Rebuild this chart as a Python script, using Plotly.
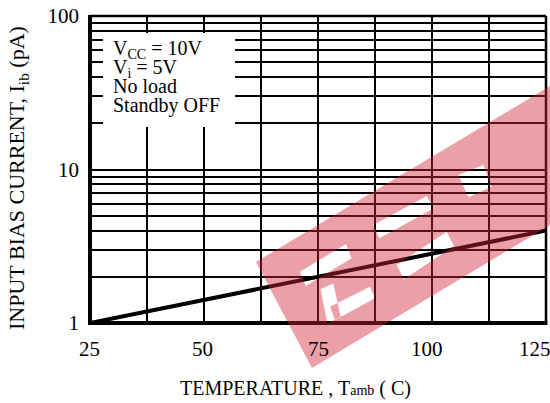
import plotly.graph_objects as go

# ---- data ----
temperature_c = [25, 50, 75, 100, 125]
ib_pa = [1.0, 1.41, 2.0, 2.83, 4.0]

x_tickvals = [25, 50, 75, 100, 125]
x_ticktext = ["25", "50", "75", "100", "125"]
x_minorvals = [37.5, 62.5, 87.5, 112.5]
y_tickvals = [1, 10, 100]
y_ticktext = ["1", "10", "100"]
y_minorvals = [2, 3, 4, 5, 6, 7, 8, 9, 20, 30, 40, 50, 60, 70, 80, 90]

cond_lines = ["V<sub>CC</sub> = 10V", "V<sub>i</sub> = 5V", "No load", "Standby OFF"]

FONT = "Liberation Serif"
W, H = 550, 403
ML, MR, MT, MB = 90, 4, 16, 80
PW, PH = W - ML - MR, H - MT - MB


def px(xp):
    return (xp - ML) / PW


def py(yp):
    return (H - MB - yp) / PH


def poly_path(pts):
    return "M " + " L ".join(f"{px(a):.4f},{py(b):.4f}" for a, b in pts) + " Z"


fig = go.Figure()
fig.add_trace(go.Scatter(
    x=temperature_c, y=ib_pa, mode="lines",
    line=dict(color="black", width=4), showlegend=False, hoverinfo="skip",
))

grid = dict(showgrid=True, gridcolor="black", gridwidth=1.5, zeroline=False,
            showline=False, ticks="", tickfont=dict(family=FONT, size=21, color="black"))

fig.update_xaxes(range=[25, 125], tickmode="array", tickvals=x_tickvals, ticktext=x_ticktext,
                 showticklabels=False,
                 minor=dict(tickmode="array", tickvals=x_minorvals, showgrid=True,
                            gridcolor="black", gridwidth=1.5, ticks=""),
                 **grid)
fig.update_yaxes(type="log", range=[0, 2], tickmode="array", tickvals=y_tickvals,
                 ticktext=y_ticktext, ticklabelstandoff=10,
                 minor=dict(tickmode="array", tickvals=y_minorvals, showgrid=True,
                            gridcolor="black", gridwidth=1.5, ticks=""),
                 **grid)

shapes = []
# white box behind the conditions text
shapes.append(dict(type="rect", xref="paper", yref="paper", x0=px(103), x1=px(235),
                   y0=py(127), y1=py(33), fillcolor="white", line=dict(width=0), layer="above"))
# frame: thick left/bottom, thinner top/right
shapes.append(dict(type="line", xref="paper", yref="paper", x0=0, x1=0, y0=-0.006, y1=1.003,
                   line=dict(color="black", width=4)))
shapes.append(dict(type="line", xref="paper", yref="paper", x0=-0.004, x1=1.003, y0=0, y1=0,
                   line=dict(color="black", width=4)))
shapes.append(dict(type="line", xref="paper", yref="paper", x0=0, x1=1, y0=1, y1=1,
                   line=dict(color="black", width=2.5)))
shapes.append(dict(type="line", xref="paper", yref="paper", x0=1, x1=1, y0=0, y1=1,
                   line=dict(color="black", width=2.5)))

# ---- translucent red watermark band with the logo's white cut-outs as holes ----
band = [(256, 262), (312, 368), (560, 219), (560, 80)]
holes3x = [  # crop coordinates (origin 250,90, scale 1/3), opposite winding -> holes
    [(150, 545), (288, 462), (305, 505), (167, 588)],
    [(212, 598), (250, 580), (272, 680), (232, 700)],
    [(240, 650), (360, 590), (375, 625), (255, 690)],
    [(370, 405), (530, 318), (552, 355), (388, 445)],
    [(440, 525), (590, 425), (612, 468), (462, 568)],
    [(625, 255), (700, 225), (725, 290), (655, 322)],
]
path = poly_path(band)
for h in holes3x:
    path += " " + poly_path([(250 + a / 3, 90 + b / 3) for a, b in h])
shapes.append(dict(type="path", xref="paper", yref="paper", path=path,
                   fillcolor="rgba(207,37,51,0.435)", line=dict(width=0), layer="above"))

annotations = []
# x tick labels (the original's labels sit slightly left of their gridlines)
label_shift = [-1, -2, 0, -5, -11]
for val, txt, sh in zip(x_tickvals, x_ticktext, label_shift):
    annotations.append(dict(text=txt, xref="x", yref="paper", x=val, y=py(349),
                            xanchor="center", yanchor="middle", xshift=sh, showarrow=False,
                            font=dict(family=FONT, size=21, color="black")))

# conditions block: tight line spacing (base size 14.6 -> 19 px leading), glyphs at 20 px
cond_text = "<br>".join(f"<span style='font-size:20px'>{t}</span>" for t in cond_lines)
annotations.append(dict(text=cond_text, xref="paper", yref="paper", x=px(111), y=py(77),
                        xanchor="left", yanchor="middle", align="left", showarrow=False,
                        font=dict(family=FONT, size=14.6, color="black")))
annotations.append(dict(
    text="TEMPERATURE , T<span style='font-size:14px'>amb</span> ( C)",
    xref="paper", yref="paper", x=px(295), y=py(388), xanchor="center", yanchor="middle",
    showarrow=False, font=dict(family=FONT, size=20, color="black")))
annotations.append(dict(
    text="INPUT BIAS CURRENT, I<sub>ib</sub> (pA)",
    xref="paper", yref="paper", x=px(18), y=py(178), xanchor="center", yanchor="middle",
    textangle=-90, showarrow=False, font=dict(family=FONT, size=22, color="black")))

fig.update_layout(
    width=W, height=H, margin=dict(l=ML, r=MR, t=MT, b=MB),
    paper_bgcolor="white", plot_bgcolor="white",
    shapes=shapes, annotations=annotations, showlegend=False,
)

fig.write_html("out.html")
